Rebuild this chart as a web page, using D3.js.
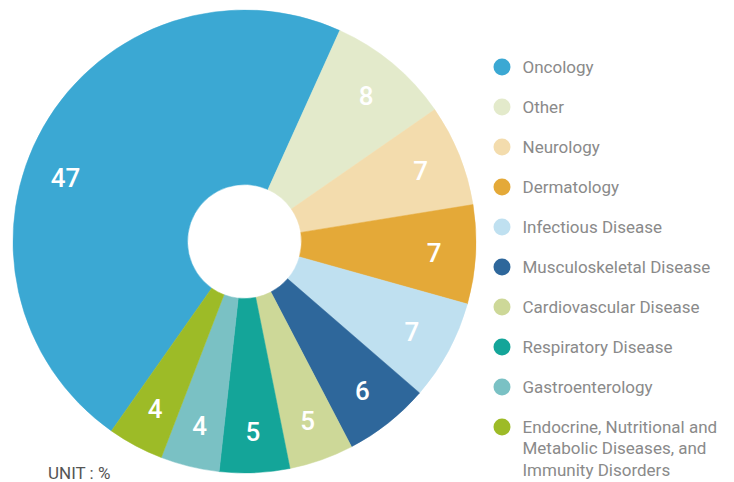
<!DOCTYPE html>
<html>
<head>
<meta charset="utf-8">
<script src="https://cdn.jsdelivr.net/npm/d3@7"></script>
<style>
  body { margin: 0; background: #fff; }
  svg { display: block; }
</style>
</head>
<body>
<svg id="chart" width="734" height="482"></svg>
<script>
// 분야별 비율 (단위 %)
const categories = ["Oncology", "Other", "Neurology", "Dermatology", "Infectious Disease",
  "Musculoskeletal Disease", "Cardiovascular Disease", "Respiratory Disease",
  "Gastroenterology", "Endocrine, Nutritional and Metabolic Diseases, and Immunity Disorders"];
const values = [47.0, 8.6, 7.1, 6.9, 7.0, 6.0, 4.5, 4.9, 4.1, 3.9];
const shownLabels = ["47", "8", "7", "7", "7", "6", "5", "5", "4", "4"];
const colors = ["#3ba8d3", "#e3eacb", "#f3dcad", "#e4a938", "#bfe0f0",
  "#2e679b", "#cdd898", "#14a599", "#7ac1c4", "#9dbb27"];
// 범례 줄바꿈
const legendLines = [["Oncology"], ["Other"], ["Neurology"], ["Dermatology"], ["Infectious Disease"],
  ["Musculoskeletal Disease"], ["Cardiovascular Disease"], ["Respiratory Disease"], ["Gastroenterology"],
  ["Endocrine, Nutritional and", "Metabolic Diseases, and", "Immunity Disorders"]];

const svg = d3.select("#chart");
const cx = 244.5, cy = 241.5;
const outerR = 231.5, innerR = 57, labelR = 190;

const color = d3.scaleOrdinal().domain(categories).range(colors);

const start = -144.9 * Math.PI / 180;
const pie = d3.pie().sort(null).startAngle(start).endAngle(start + 2 * Math.PI);
const arcs = pie(values);

const arc = d3.arc().innerRadius(innerR).outerRadius(outerR);

const g = svg.append("g").attr("transform", `translate(${cx},${cy})`);

g.selectAll("path.slice")
  .data(arcs)
  .join("path")
  .attr("class", "slice")
  .attr("d", arc)
  .attr("fill", (d, i) => color(categories[i]))
  .attr("stroke", (d, i) => color(categories[i]))
  .attr("stroke-width", 0.5);

// 값 라벨: 가장 큰 조각은 라벨을 조금 아래로 (원본 배치)
const labelAngle = d => {
  let a = (d.startAngle + d.endAngle) / 2;
  if (d.index === 0) a -= 10 * Math.PI / 180;
  return a;
};

g.selectAll("text.value")
  .data(arcs)
  .join("text")
  .attr("class", "value")
  .attr("x", d => labelR * Math.sin(labelAngle(d)))
  .attr("y", d => -labelR * Math.cos(labelAngle(d)))
  .attr("text-anchor", "middle")
  .attr("dy", "0.36em")
  .style("font-family", "Roboto, 'DejaVu Sans', sans-serif")
  .style("font-weight", 500)
  .style("font-size", "26px")
  .style("fill", "#fff")
  .text((d, i) => shownLabels[i]);

// 범례
const legend = svg.append("g").attr("transform", "translate(502,67)");
const rowStep = 40;
const item = legend.selectAll("g.item")
  .data(categories)
  .join("g")
  .attr("class", "item")
  .attr("transform", (d, i) => `translate(0,${i * rowStep})`);

item.append("circle")
  .attr("r", 8.5)
  .attr("fill", d => color(d));

item.append("text")
  .style("font-family", "Roboto, 'DejaVu Sans', sans-serif")
  .style("font-size", "17px")
  .style("fill", "#8a8a8a")
  .selectAll("tspan")
  .data((d, i) => legendLines[i])
  .join("tspan")
  .attr("x", 20.5)
  .attr("dy", (d, j) => j === 0 ? "0.35em" : 21.5)
  .text(d => d);

svg.append("text")
  .attr("x", 48)
  .attr("y", 479)
  .style("font-family", "Roboto, 'DejaVu Sans', sans-serif")
  .style("font-size", "17px")
  .style("fill", "#555")
  .text("UNIT : %");
</script>
</body>
</html>
